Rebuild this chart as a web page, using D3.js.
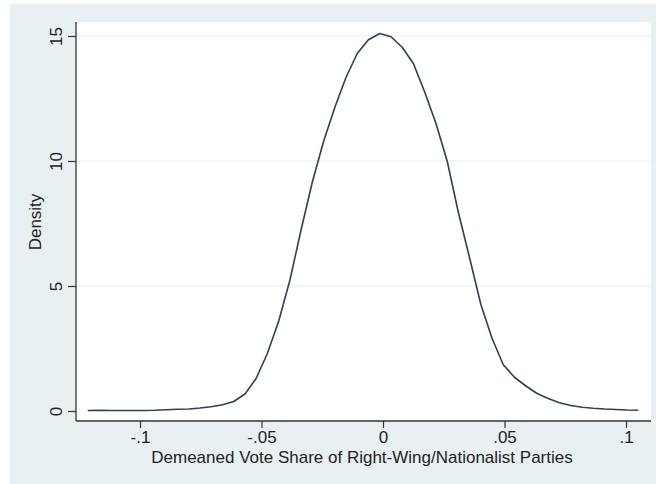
<!DOCTYPE html>
<html>
<head>
<meta charset="utf-8">
<script src="https://cdn.jsdelivr.net/npm/d3@7"></script>
<style>
html,body{margin:0;padding:0;background:#ffffff;}
svg{display:block;}
text{font-family:"Liberation Sans",Arial,sans-serif;fill:#222;}
</style>
</head>
<body>
<svg id="chart" width="656" height="484"></svg>
<script>
// Kernel density estimate points (x = demeaned vote share, y = density)
const xValues = [-0.1215,-0.1169,-0.1123,-0.1076,-0.1030,-0.0984,-0.0938,-0.0892,-0.0845,-0.0799,
  -0.0753,-0.0707,-0.0660,-0.0614,-0.0568,-0.0522,-0.0476,-0.0429,-0.0383,-0.0337,
  -0.0291,-0.0244,-0.0198,-0.0152,-0.0106,-0.0060,-0.0013,0.0033,0.0079,0.0125,
  0.0172,0.0218,0.0264,0.0310,0.0357,0.0403,0.0449,0.0495,0.0541,0.0588,
  0.0634,0.0680,0.0726,0.0773,0.0819,0.0865,0.0911,0.0958,0.1004,0.1050];
const densityValues = [0.02,0.03,0.02,0.02,0.02,0.02,0.03,0.05,0.07,0.08,
  0.12,0.17,0.25,0.38,0.68,1.3,2.3,3.6,5.24,7.25,
  9.15,10.8,12.15,13.35,14.3,14.85,15.1,14.97,14.55,13.9,
  12.75,11.5,10.0,7.95,6.1,4.25,2.9,1.85,1.35,1.0,
  0.7,0.5,0.33,0.22,0.15,0.11,0.08,0.06,0.04,0.03];
const xTicks = [-0.1,-0.05,0,0.05,0.1];
const xTickLabels = ["-.1","-.05","0",".05",".1"];
const yTicks = [0,5,10,15];
const yTickLabels = ["0","5","10","15"];
const xTitle = "Demeaned Vote Share of Right-Wing/Nationalist Parties";
const yTitle = "Density";

const svg = d3.select("#chart");
// graph region background
svg.append("rect").attr("x",10).attr("y",4).attr("width",646).attr("height",480).attr("fill","#e9f0f2");
const plot = {left:76, right:651, top:22, bottom:421};
svg.append("rect").attr("x",plot.left).attr("y",plot.top)
  .attr("width",plot.right-plot.left).attr("height",plot.bottom-plot.top).attr("fill","#ffffff");

const x = d3.scaleLinear().domain([0,0.05]).range([383,504.5]);
const y = d3.scaleLinear().domain([0,15]).range([411,36]);

// gridlines
svg.append("g").selectAll("line").data(yTicks.filter(d=>d>0)).join("line")
  .attr("x1",plot.left).attr("x2",plot.right)
  .attr("y1",d=>y(d)).attr("y2",d=>y(d))
  .attr("stroke","#eaeff1").attr("stroke-width",1.2);

// curve
const pts = xValues.map((v,i)=>[v,densityValues[i]]);
svg.append("path").datum(pts)
  .attr("fill","none").attr("stroke","#2e3f56").attr("stroke-width",1.6)
  .attr("stroke-linejoin","round")
  .attr("d",d3.line().x(d=>x(d[0])).y(d=>y(d[1])));

// y axis
const yAxis = d3.axisLeft(y).tickValues(yTicks).tickFormat((d,i)=>yTickLabels[i]).tickSize(8).tickPadding(6);
const gy = svg.append("g").attr("transform",`translate(${plot.left},0)`).call(yAxis);
gy.select(".domain").remove();
gy.append("line").attr("x1",0).attr("x2",0).attr("y1",plot.top).attr("y2",plot.bottom).attr("stroke","#333").attr("stroke-width",1.3);
gy.selectAll(".tick line").attr("stroke","#333").attr("stroke-width",1.2);
gy.selectAll(".tick text")
  .attr("font-size",17).attr("fill","#222")
  .attr("text-anchor","middle").attr("x",0).attr("y",0).attr("dy",0)
  .attr("transform","translate(-14,0) rotate(-90)");

// x axis
const xAxis = d3.axisBottom(x).tickValues(xTicks).tickFormat((d,i)=>xTickLabels[i]).tickSize(7).tickPadding(3);
const gx = svg.append("g").attr("transform",`translate(0,${plot.bottom})`).call(xAxis);
gx.select(".domain").remove();
gx.append("line").attr("x1",plot.left).attr("x2",plot.right).attr("y1",0).attr("y2",0).attr("stroke","#333").attr("stroke-width",1.3);
gx.selectAll(".tick line").attr("stroke","#333").attr("stroke-width",1.2);
gx.selectAll(".tick text").attr("font-size",17).attr("fill","#222");

// titles
svg.append("text").attr("x",362).attr("y",463).attr("text-anchor","middle")
  .attr("font-size",17).text(xTitle);
svg.append("text").attr("transform","translate(41,222) rotate(-90)").attr("text-anchor","middle")
  .attr("font-size",17).text(yTitle);
</script>
</body>
</html>
